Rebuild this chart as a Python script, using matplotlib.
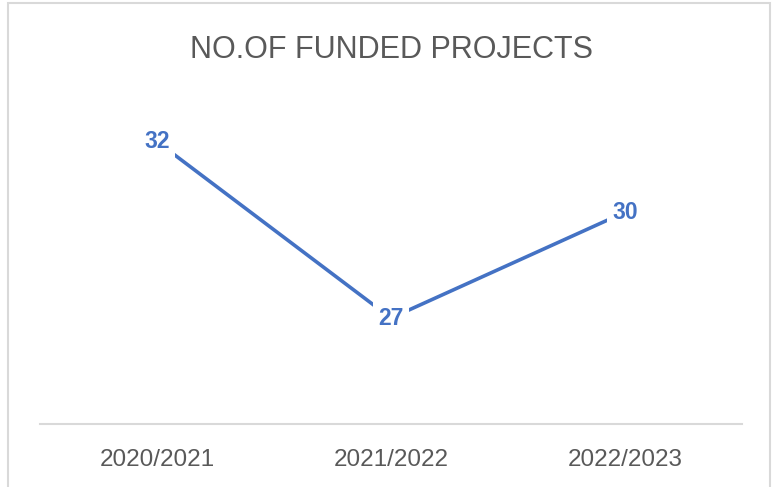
import matplotlib
matplotlib.use('Agg')
import matplotlib.pyplot as plt
from matplotlib.patches import Rectangle

# funded projects per academic year
years = ['2020/2021', '2021/2022', '2022/2023']
projects = [32, 27, 30]

plt.rcParams['font.family'] = ['Liberation Sans', 'DejaVu Sans']

blue = '#4472C4'
grey_text = '#595959'
grey_line = '#D9D9D9'

fig = plt.figure(figsize=(7.77, 4.87), dpi=100)
ax = fig.add_axes([40/777, 63/487, 702/777, 353/487])

x = list(range(len(years)))
ax.plot(x, projects, color=blue, linewidth=2.6, solid_capstyle='round', zorder=2)
for xi, v in zip(x, projects):
    ax.text(xi, v, str(v), ha='center', va='center', color=blue, fontsize=16.5,
            fontweight='bold', zorder=3,
            bbox=dict(facecolor='white', edgecolor='none', pad=4))

ax.set_xlim(-0.5, len(years) - 0.5)
ax.set_ylim(24, 34)
ax.set_xticks(x)
ax.set_xticklabels(years, fontsize=17.5, color=grey_text)
ax.tick_params(axis='x', length=0, pad=18)
ax.set_yticks([])
for side in ['top', 'right', 'left']:
    ax.spines[side].set_visible(False)
ax.spines['bottom'].set_color(grey_line)
ax.spines['bottom'].set_linewidth(1.5)

fig.text(391/777, 1 - 50/487, 'NO.OF FUNDED PROJECTS', ha='center', va='center',
         fontsize=22, color=grey_text)

# chart frame
fig.patches.append(Rectangle((8/777, -0.1), 762/777, 1.1 - 3/487,
                             transform=fig.transFigure, fill=False,
                             edgecolor=grey_line, linewidth=1.5))

fig.savefig('out.png', dpi=100)
